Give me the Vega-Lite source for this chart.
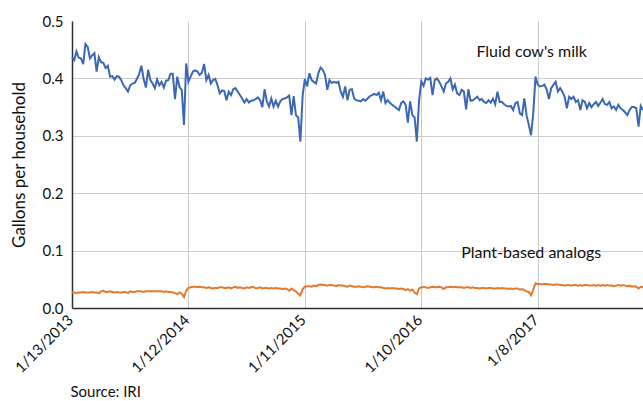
{
  "$schema": "https://vega.github.io/schema/vega-lite/v6.json",
  "autosize": {"type": "none"},
  "padding": {"left": 72, "top": 21, "right": 0, "bottom": 93},
  "width": 571,
  "height": 287,
  "background": "white",
  "config": {
    "font": "Lato",
    "view": {"stroke": null},
    "axis": {"labelFont": "Lato", "titleFont": "Lato", "labelColor": "#111", "titleColor": "#111", "titleFontWeight": "normal", "labelFontSize": 15, "titleFontSize": 15, "gridColor": "#cccccc", "gridWidth": 1, "domainColor": "#303030", "domainWidth": 1.5, "ticks": false}
  },
  "datasets": {
    "weekly": [
{"w":0,"m":0.437,"p":0.027},{"w":1,"m":0.432,"p":0.027},{"w":2,"m":0.447,"p":0.026},{"w":3,"m":0.436,"p":0.027},{"w":4,"m":0.435,"p":0.027},{"w":5,"m":0.425,"p":0.028},{"w":6,"m":0.46,"p":0.027},{"w":7,"m":0.455,"p":0.027},{"w":8,"m":0.435,"p":0.027},{"w":9,"m":0.44,"p":0.028},
{"w":10,"m":0.444,"p":0.027},{"w":11,"m":0.412,"p":0.027},{"w":12,"m":0.437,"p":0.026},{"w":13,"m":0.428,"p":0.029},{"w":14,"m":0.427,"p":0.03},{"w":15,"m":0.418,"p":0.028},{"w":16,"m":0.422,"p":0.028},{"w":17,"m":0.403,"p":0.029},{"w":18,"m":0.404,"p":0.028},{"w":19,"m":0.398,"p":0.027},
{"w":20,"m":0.404,"p":0.028},{"w":21,"m":0.403,"p":0.027},{"w":22,"m":0.397,"p":0.027},{"w":23,"m":0.388,"p":0.028},{"w":24,"m":0.383,"p":0.028},{"w":25,"m":0.377,"p":0.026},{"w":26,"m":0.388,"p":0.029},{"w":27,"m":0.391,"p":0.028},{"w":28,"m":0.392,"p":0.028},{"w":29,"m":0.399,"p":0.029},
{"w":30,"m":0.408,"p":0.029},{"w":31,"m":0.422,"p":0.029},{"w":32,"m":0.399,"p":0.028},{"w":33,"m":0.384,"p":0.029},{"w":34,"m":0.415,"p":0.029},{"w":35,"m":0.397,"p":0.029},{"w":36,"m":0.391,"p":0.029},{"w":37,"m":0.383,"p":0.029},{"w":38,"m":0.398,"p":0.029},{"w":39,"m":0.388,"p":0.029},
{"w":40,"m":0.394,"p":0.029},{"w":41,"m":0.384,"p":0.028},{"w":42,"m":0.396,"p":0.029},{"w":43,"m":0.397,"p":0.028},{"w":44,"m":0.408,"p":0.028},{"w":45,"m":0.408,"p":0.027},{"w":46,"m":0.364,"p":0.026},{"w":47,"m":0.403,"p":0.024},{"w":48,"m":0.385,"p":0.027},{"w":49,"m":0.38,"p":0.025},
{"w":50,"m":0.319,"p":0.019},{"w":51,"m":0.426,"p":0.03},{"w":52,"m":0.394,"p":0.035},{"w":53,"m":0.403,"p":0.036},{"w":54,"m":0.412,"p":0.037},{"w":55,"m":0.414,"p":0.037},{"w":56,"m":0.412,"p":0.036},{"w":57,"m":0.406,"p":0.037},{"w":58,"m":0.41,"p":0.036},{"w":59,"m":0.425,"p":0.036},
{"w":60,"m":0.397,"p":0.035},{"w":61,"m":0.406,"p":0.036},{"w":62,"m":0.391,"p":0.035},{"w":63,"m":0.397,"p":0.034},{"w":64,"m":0.399,"p":0.035},{"w":65,"m":0.388,"p":0.035},{"w":66,"m":0.374,"p":0.036},{"w":67,"m":0.379,"p":0.036},{"w":68,"m":0.378,"p":0.035},{"w":69,"m":0.362,"p":0.035},
{"w":70,"m":0.377,"p":0.036},{"w":71,"m":0.371,"p":0.034},{"w":72,"m":0.381,"p":0.036},{"w":73,"m":0.383,"p":0.037},{"w":74,"m":0.377,"p":0.035},{"w":75,"m":0.371,"p":0.036},{"w":76,"m":0.365,"p":0.035},{"w":77,"m":0.358,"p":0.034},{"w":78,"m":0.364,"p":0.036},{"w":79,"m":0.358,"p":0.035},
{"w":80,"m":0.361,"p":0.036},{"w":81,"m":0.362,"p":0.037},{"w":82,"m":0.364,"p":0.034},{"w":83,"m":0.367,"p":0.035},{"w":84,"m":0.362,"p":0.036},{"w":85,"m":0.35,"p":0.034},{"w":86,"m":0.381,"p":0.035},{"w":87,"m":0.36,"p":0.035},{"w":88,"m":0.351,"p":0.034},{"w":89,"m":0.365,"p":0.035},
{"w":90,"m":0.351,"p":0.034},{"w":91,"m":0.361,"p":0.035},{"w":92,"m":0.351,"p":0.034},{"w":93,"m":0.36,"p":0.034},{"w":94,"m":0.364,"p":0.033},{"w":95,"m":0.365,"p":0.034},{"w":96,"m":0.367,"p":0.033},{"w":97,"m":0.37,"p":0.03},{"w":98,"m":0.336,"p":0.034},{"w":99,"m":0.369,"p":0.031},
{"w":100,"m":0.336,"p":0.029},{"w":101,"m":0.332,"p":0.025},{"w":102,"m":0.29,"p":0.022},{"w":103,"m":0.37,"p":0.033},{"w":104,"m":0.399,"p":0.037},{"w":105,"m":0.386,"p":0.038},{"w":106,"m":0.409,"p":0.038},{"w":107,"m":0.397,"p":0.037},{"w":108,"m":0.394,"p":0.039},{"w":109,"m":0.391,"p":0.038},
{"w":110,"m":0.409,"p":0.04},{"w":111,"m":0.419,"p":0.041},{"w":112,"m":0.415,"p":0.04},{"w":113,"m":0.406,"p":0.04},{"w":114,"m":0.38,"p":0.039},{"w":115,"m":0.397,"p":0.04},{"w":116,"m":0.392,"p":0.04},{"w":117,"m":0.394,"p":0.039},{"w":118,"m":0.392,"p":0.038},{"w":119,"m":0.394,"p":0.04},
{"w":120,"m":0.377,"p":0.039},{"w":121,"m":0.368,"p":0.039},{"w":122,"m":0.386,"p":0.038},{"w":123,"m":0.362,"p":0.037},{"w":124,"m":0.38,"p":0.039},{"w":125,"m":0.381,"p":0.038},{"w":126,"m":0.365,"p":0.037},{"w":127,"m":0.362,"p":0.037},{"w":128,"m":0.361,"p":0.038},{"w":129,"m":0.36,"p":0.037},
{"w":130,"m":0.364,"p":0.036},{"w":131,"m":0.361,"p":0.037},{"w":132,"m":0.365,"p":0.038},{"w":133,"m":0.369,"p":0.037},{"w":134,"m":0.371,"p":0.036},{"w":135,"m":0.373,"p":0.036},{"w":136,"m":0.371,"p":0.037},{"w":137,"m":0.375,"p":0.036},{"w":138,"m":0.362,"p":0.036},{"w":139,"m":0.377,"p":0.035},
{"w":140,"m":0.357,"p":0.034},{"w":141,"m":0.362,"p":0.035},{"w":142,"m":0.357,"p":0.034},{"w":143,"m":0.354,"p":0.035},{"w":144,"m":0.351,"p":0.034},{"w":145,"m":0.348,"p":0.034},{"w":146,"m":0.345,"p":0.033},{"w":147,"m":0.357,"p":0.034},{"w":148,"m":0.36,"p":0.033},{"w":149,"m":0.354,"p":0.031},
{"w":150,"m":0.323,"p":0.033},{"w":151,"m":0.36,"p":0.03},{"w":152,"m":0.336,"p":0.032},{"w":153,"m":0.332,"p":0.027},{"w":154,"m":0.29,"p":0.024},{"w":155,"m":0.362,"p":0.034},{"w":156,"m":0.395,"p":0.036},{"w":157,"m":0.387,"p":0.036},{"w":158,"m":0.4,"p":0.036},{"w":159,"m":0.398,"p":0.035},
{"w":160,"m":0.401,"p":0.036},{"w":161,"m":0.371,"p":0.037},{"w":162,"m":0.397,"p":0.036},{"w":163,"m":0.4,"p":0.036},{"w":164,"m":0.394,"p":0.037},{"w":165,"m":0.386,"p":0.036},{"w":166,"m":0.377,"p":0.033},{"w":167,"m":0.391,"p":0.036},{"w":168,"m":0.394,"p":0.036},{"w":169,"m":0.4,"p":0.037},
{"w":170,"m":0.381,"p":0.036},{"w":171,"m":0.389,"p":0.037},{"w":172,"m":0.374,"p":0.036},{"w":173,"m":0.371,"p":0.036},{"w":174,"m":0.38,"p":0.036},{"w":175,"m":0.377,"p":0.035},{"w":176,"m":0.346,"p":0.036},{"w":177,"m":0.381,"p":0.036},{"w":178,"m":0.361,"p":0.035},{"w":179,"m":0.362,"p":0.036},
{"w":180,"m":0.365,"p":0.035},{"w":181,"m":0.368,"p":0.035},{"w":182,"m":0.362,"p":0.034},{"w":183,"m":0.364,"p":0.035},{"w":184,"m":0.359,"p":0.035},{"w":185,"m":0.357,"p":0.034},{"w":186,"m":0.362,"p":0.035},{"w":187,"m":0.358,"p":0.035},{"w":188,"m":0.365,"p":0.034},{"w":189,"m":0.355,"p":0.034},
{"w":190,"m":0.377,"p":0.035},{"w":191,"m":0.359,"p":0.034},{"w":192,"m":0.359,"p":0.035},{"w":193,"m":0.355,"p":0.034},{"w":194,"m":0.352,"p":0.034},{"w":195,"m":0.351,"p":0.033},{"w":196,"m":0.352,"p":0.034},{"w":197,"m":0.345,"p":0.033},{"w":198,"m":0.357,"p":0.034},{"w":199,"m":0.359,"p":0.034},
{"w":200,"m":0.339,"p":0.032},{"w":201,"m":0.336,"p":0.033},{"w":202,"m":0.365,"p":0.031},{"w":203,"m":0.336,"p":0.029},{"w":204,"m":0.319,"p":0.028},{"w":205,"m":0.301,"p":0.022},{"w":206,"m":0.34,"p":0.032},{"w":207,"m":0.403,"p":0.043},{"w":208,"m":0.389,"p":0.042},{"w":209,"m":0.386,"p":0.042},
{"w":210,"m":0.387,"p":0.041},{"w":211,"m":0.389,"p":0.042},{"w":212,"m":0.38,"p":0.042},{"w":213,"m":0.364,"p":0.041},{"w":214,"m":0.383,"p":0.041},{"w":215,"m":0.389,"p":0.04},{"w":216,"m":0.394,"p":0.041},{"w":217,"m":0.377,"p":0.041},{"w":218,"m":0.383,"p":0.04},{"w":219,"m":0.377,"p":0.04},
{"w":220,"m":0.368,"p":0.039},{"w":221,"m":0.348,"p":0.04},{"w":222,"m":0.368,"p":0.04},{"w":223,"m":0.364,"p":0.039},{"w":224,"m":0.368,"p":0.04},{"w":225,"m":0.359,"p":0.04},{"w":226,"m":0.362,"p":0.039},{"w":227,"m":0.345,"p":0.04},{"w":228,"m":0.362,"p":0.039},{"w":229,"m":0.359,"p":0.04},
{"w":230,"m":0.348,"p":0.04},{"w":231,"m":0.357,"p":0.039},{"w":232,"m":0.35,"p":0.039},{"w":233,"m":0.355,"p":0.04},{"w":234,"m":0.359,"p":0.039},{"w":235,"m":0.352,"p":0.04},{"w":236,"m":0.358,"p":0.039},{"w":237,"m":0.364,"p":0.04},{"w":238,"m":0.355,"p":0.039},{"w":239,"m":0.354,"p":0.04},
{"w":240,"m":0.359,"p":0.039},{"w":241,"m":0.348,"p":0.039},{"w":242,"m":0.351,"p":0.038},{"w":243,"m":0.345,"p":0.039},{"w":244,"m":0.354,"p":0.04},{"w":245,"m":0.348,"p":0.039},{"w":246,"m":0.345,"p":0.04},{"w":247,"m":0.341,"p":0.039},{"w":248,"m":0.336,"p":0.038},{"w":249,"m":0.345,"p":0.039},
{"w":250,"m":0.35,"p":0.037},{"w":251,"m":0.35,"p":0.038},{"w":252,"m":0.348,"p":0.037},{"w":253,"m":0.316,"p":0.034},{"w":254,"m":0.352,"p":0.037},{"w":255,"m":0.345,"p":0.036}
    ],
    "notes": [
      {"w": 205.3, "v": 0.437, "t": "Fluid cow's milk"},
      {"w": 205.1, "v": 0.087, "t": "Plant-based analogs"}
    ]
  },
  "encoding": {
    "x": {
      "field": "w", "type": "quantitative",
      "scale": {"domain": [0, 255], "nice": false, "zero": false},
      "axis": {
        "values": [0, 52, 104, 156, 208],
        "labelExpr": "datum.value == 0 ? '1/13/2013' : datum.value == 52 ? '1/12/2014' : datum.value == 104 ? '1/11/2015' : datum.value == 156 ? '1/10/2016' : '1/8/2017'",
        "labelAngle": -45, "labelAlign": "right", "labelBaseline": "middle", "labelPadding": 9, "labelOffset": -2,
        "grid": true, "gridColor": "#c8c8c8",
        "title": "Source: IRI", "titleAnchor": "start", "titleAlign": "left", "titleBaseline": "alphabetic", "titleX": -2, "titleY": 88, "titleFontSize": 15
      }
    }
  },
  "layer": [
    {
      "data": {"name": "weekly"},
      "mark": {"type": "line", "color": "#3b68b3", "strokeWidth": 2, "interpolate": "linear"},
      "encoding": {
        "y": {
          "field": "m", "type": "quantitative",
          "scale": {"domain": [0, 0.5], "nice": false},
          "axis": {
            "values": [0, 0.1, 0.2, 0.3, 0.4, 0.5], "format": ".1f", "labelPadding": 9,
            "grid": true, "gridOpacity": {"condition": {"test": "datum.value >= 0.45", "value": 0}, "value": 1},
            "title": "Gallons per household", "titleFontSize": 17, "titlePadding": 14
          }
        }
      }
    },
    {
      "data": {"name": "weekly"},
      "mark": {"type": "line", "color": "#e27b30", "strokeWidth": 2},
      "encoding": {"y": {"field": "p", "type": "quantitative"}}
    },
    {
      "data": {"name": "notes"},
      "mark": {"type": "text", "font": "Lato", "fontSize": 16, "align": "center", "baseline": "alphabetic", "color": "#111"},
      "encoding": {
        "y": {"field": "v", "type": "quantitative"},
        "text": {"field": "t"}
      }
    }
  ]
}
